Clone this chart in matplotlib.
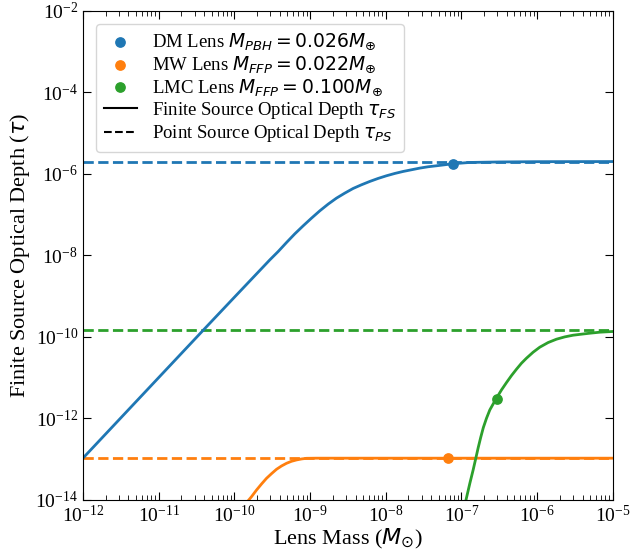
import numpy as np
import matplotlib
matplotlib.use("Agg")
import matplotlib.pyplot as plt
from matplotlib.lines import Line2D

plt.rcParams['font.family'] = 'serif'
plt.rcParams['font.serif'] = ['Liberation Serif', 'DejaVu Serif']

# Werte (log10 Masse, log10 tau)
dm_logm = [-12.0, -11.0, -10.41, -10.0, -9.53, -9.42, -9.31, -9.20, -9.09, -8.98,
           -8.87, -8.76, -8.65, -8.54, -8.43, -8.32, -8.21, -8.10, -7.99, -7.88,
           -7.77, -7.66, -7.55, -7.44, -7.33, -7.22, -7.12, -6.89, -6.5, -6.0, -5.0]
dm_logtau = [-12.975, -11.0, -9.835, -9.03, -8.11, -7.906, -7.685, -7.472, -7.276, -7.088,
             -6.908, -6.744, -6.597, -6.474, -6.36, -6.27, -6.188, -6.114, -6.049, -5.992,
             -5.943, -5.902, -5.861, -5.828, -5.804, -5.779, -5.755, -5.722, -5.71, -5.703, -5.70]

mw_logm = [-9.816, -9.772, -9.706, -9.640, -9.574, -9.508, -9.442, -9.376, -9.310,
           -9.244, -9.178, -9.112, -9.046, -8.914, -8.6, -8.0, -5.0]
mw_logtau = [-14.016, -13.918, -13.755, -13.607, -13.468, -13.354, -13.247, -13.166, -13.10,
             -13.051, -13.018, -12.994, -12.978, -12.975, -12.975, -12.975, -12.975]

lmc_logm = [-6.941, -6.888, -6.844, -6.812, -6.778, -6.745, -6.710, -6.668, -6.624,
            -6.545, -6.470, -6.404, -6.338, -6.272, -6.206, -6.140, -6.052, -5.964,
            -5.854, -5.744, -5.634, -5.524, -5.414, -5.303, -5.171, -5.0]
lmc_logtau = [-14.016, -13.591, -13.26, -13.0, -12.72, -12.47, -12.225, -11.996, -11.791,
              -11.53, -11.301, -11.121, -10.949, -10.793, -10.646, -10.523, -10.376, -10.253,
              -10.139, -10.057, -10.0, -9.959, -9.934, -9.91, -9.885, -9.868]

# Punktquellen-Tiefe (horizontal)
tau_ps = {"dm": 2.0e-6, "mw": 1.06e-13, "lmc": 1.45e-10}

# Markierte Linsenmassen
m_earth = 3.0e-6
mark_m = [0.026 * m_earth, 0.022 * m_earth, 0.100 * m_earth]
mark_tau = [1.76e-6, 1.06e-13, 2.95e-12]

labels = [r"DM Lens $M_{PBH} = 0.026 M_{\oplus}$",
          r"MW Lens $M_{FFP} = 0.022 M_{\oplus}$",
          r"LMC Lens $M_{FFP} = 0.100 M_{\oplus}$"]
colors = ["C0", "C1", "C2"]

fig = plt.figure(figsize=(6.33, 5.51), dpi=100)
ax = fig.add_axes([0.131, 0.0926, 0.837, 0.888])

xlim = (1e-12, 1e-5)
for key, c in zip(["dm", "mw", "lmc"], colors):
    ax.plot(xlim, [tau_ps[key]] * 2, ls="--", color=c, lw=2)

ax.plot(10 ** np.array(dm_logm), 10 ** np.array(dm_logtau), color="C0", lw=2)
ax.plot(10 ** np.array(mw_logm), 10 ** np.array(mw_logtau), color="C1", lw=2)
ax.plot(10 ** np.array(lmc_logm), 10 ** np.array(lmc_logtau), color="C2", lw=2)

sc = []
for m, t, c, lab in zip(mark_m, mark_tau, colors, labels):
    sc.append(ax.scatter([m], [t], color=c, s=45, zorder=5, label=lab))

ax.set_xscale("log")
ax.set_yscale("log")
ax.set_xlim(*xlim)
ax.set_ylim(1e-14, 1e-2)
ax.set_yticks([10.0 ** k for k in range(-14, -1, 2)])
ax.yaxis.set_minor_locator(matplotlib.ticker.NullLocator())

ax.tick_params(which="both", direction="in", top=True, right=True, labelsize=14)
ax.tick_params(which="major", length=6)
ax.tick_params(which="minor", length=3.5)

ax.set_xlabel(r"Lens Mass ($M_{\odot}$)", fontsize=16, labelpad=1)
ax.set_ylabel(r"Finite Source Optical Depth ($\tau$)", fontsize=16, labelpad=2)

handles = sc + [Line2D([], [], color="k", ls="-", lw=1.5),
                Line2D([], [], color="k", ls="--", lw=1.5)]
leg_labels = labels + [r"Finite Source Optical Depth $\tau_{FS}$",
                       r"Point Source Optical Depth $\tau_{PS}$"]
ax.legend(handles, leg_labels, loc="upper left", fontsize=13.5, scatterpoints=1,
          labelspacing=0.12, handlelength=1.8, borderaxespad=0.7)

fig.savefig("out.png", dpi=100)
